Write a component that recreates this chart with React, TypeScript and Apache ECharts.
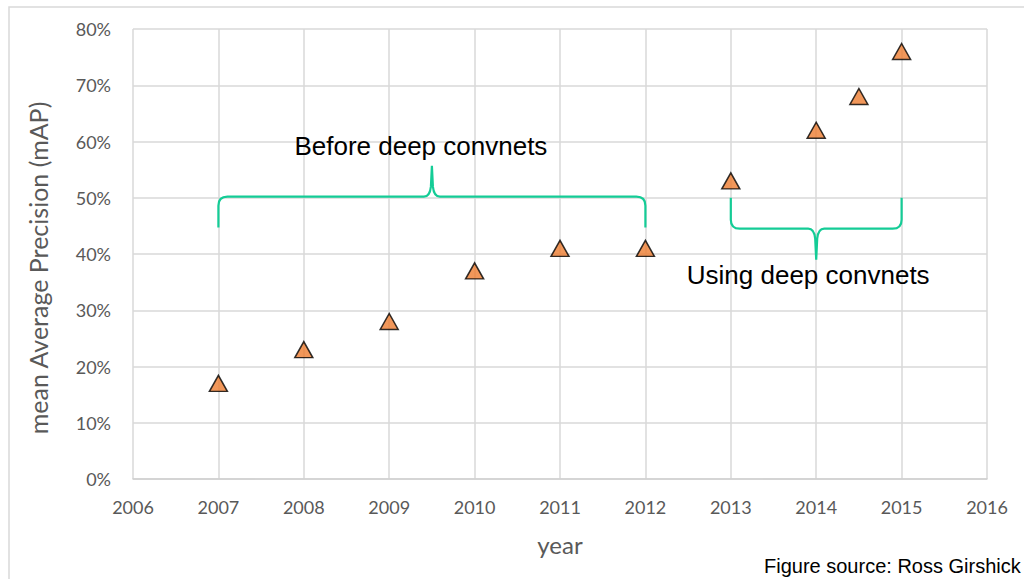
import React, { useEffect, useRef } from "react";
import * as echarts from "echarts";

const years = [2007, 2008, 2009, 2010, 2011, 2012, 2013, 2014, 2014.5, 2015];
const mapValues = [0.17, 0.23, 0.28, 0.37, 0.41, 0.41, 0.53, 0.62, 0.68, 0.76];

// braces: [xStart, xEnd, baseline y, end y, tip y]
const braceBefore = [2007, 2012, 0.502, 0.447, 0.557];
const braceUsing = [2013, 2015, 0.445, 0.5, 0.39];
const braceLabels = ["Before deep convnets", "Using deep convnets"];
const sourceText = "Figure source: Ross Girshick";
const yAxisTitle = "mean Average Precision (mAP)";
const xAxisTitle = "year";

const axisFont = "Lato, 'Open Sans', sans-serif";
const arial = "'Liberation Sans', Arial, sans-serif";
const gray = "#595959";

export default function App() {
  const ref = useRef<HTMLDivElement>(null);
  useEffect(() => {
    const chart = echarts.init(ref.current!, null, { renderer: "svg" });
    const braceData = [braceBefore, braceUsing];
    chart.setOption({
      animation: false,
      backgroundColor: "#fff",
      grid: { left: 133, right: 37, top: 29, bottom: 100 },
      xAxis: {
        type: "value",
        min: 2006,
        max: 2016,
        interval: 1,
        name: xAxisTitle,
        nameLocation: "middle",
        nameGap: 53,
        nameTextStyle: { color: gray, fontSize: 24, fontFamily: axisFont },
        axisLine: { show: true, lineStyle: { color: "#d0d0d0", width: 1.5 } },
        axisTick: { show: false },
        axisLabel: { color: gray, fontSize: 18, fontFamily: axisFont, margin: 19, formatter: (v: number) => String(v) },
        splitLine: { show: true, lineStyle: { color: "#d9d9d9", width: 1.5 } },
      },
      yAxis: {
        type: "value",
        min: 0,
        max: 0.8,
        interval: 0.1,
        axisLine: { show: false },
        axisTick: { show: false },
        axisLabel: {
          color: gray,
          fontSize: 18,
          fontFamily: axisFont,
          margin: 22,
          formatter: (v: number) => Math.round(v * 100) + "%",
        },
        splitLine: { show: true, lineStyle: { color: "#d9d9d9", width: 1.5 } },
      },
      graphic: [
        {
          type: "rect",
          shape: { x: 9, y: 7, width: 1100, height: 700 },
          style: { fill: "none", stroke: "#d9d9d9", lineWidth: 1.5 },
          silent: true,
          z: -1,
        },
        {
          type: "text",
          x: 38,
          y: 268,
          rotation: Math.PI / 2,
          style: {
            text: yAxisTitle,
            fill: gray,
            fontSize: 25,
            fontFamily: axisFont,
            align: "center",
            verticalAlign: "middle",
          },
        },
        {
          type: "text",
          x: 764,
          y: 556,
          style: { text: sourceText, fill: "#000", fontSize: 20, fontFamily: arial },
        },
      ],
      series: [
        {
          type: "custom",
          data: braceData.map((b, i) => [...b, i]),
          renderItem: (params: any, api: any) => {
            const x0 = api.value(0), x1 = api.value(1), yb = api.value(2), ye = api.value(3), yt = api.value(4);
            const idx = api.value(5);
            const pL = api.coord([x0, yb]);
            const pR = api.coord([x1, yb]);
            const pLe = api.coord([x0, ye]);
            const pRe = api.coord([x1, ye]);
            const pT = api.coord([(x0 + x1) / 2, yt]);
            const dir = pLe[1] > pL[1] ? 1 : -1;
            const r = 9;
            const by = pL[1];
            const tipDir = pT[1] < by ? -1 : 1;
            const d =
              `M ${pLe[0]} ${pLe[1]} ` +
              `L ${pLe[0]} ${by + dir * r} ` +
              `Q ${pLe[0]} ${by} ${pLe[0] + r} ${by} ` +
              `L ${pT[0] - 8} ${by} ` +
              `Q ${pT[0] - 2} ${by} ${pT[0] - 1} ${by + tipDir * 10} ` +
              `L ${pT[0]} ${pT[1]} ` +
              `L ${pT[0] + 1} ${by + tipDir * 10} ` +
              `Q ${pT[0] + 2} ${by} ${pT[0] + 8} ${by} ` +
              `L ${pR[0] - r} ${by} ` +
              `Q ${pR[0]} ${by} ${pR[0]} ${by + dir * r} ` +
              `L ${pRe[0]} ${pRe[1]}`;
            const labelPos =
              idx === 0
                ? [pT[0] - 11, pT[1] - 20]
                : [pT[0] - 8, pT[1] + 15];
            return {
              type: "group",
              children: [
                {
                  type: "path",
                  shape: { pathData: d },
                  style: { fill: "none", stroke: "#14cc96", lineWidth: 2.2 },
                },
                {
                  type: "text",
                  x: labelPos[0],
                  y: labelPos[1],
                  style: {
                    text: braceLabels[idx],
                    fill: "#000",
                    fontSize: 26,
                    fontFamily: arial,
                    align: "center",
                    verticalAlign: "middle",
                  },
                },
              ],
            };
          },
          z: 1,
        },
        {
          type: "scatter",
          data: years.map((y, i) => [y, mapValues[i]]),
          symbol: "triangle",
          symbolSize: [18, 16],
          itemStyle: { color: "#ed7d31", borderColor: "#000", borderWidth: 1.5 },
          z: 3,
        },
      ],
    });
    return () => chart.dispose();
  }, []);
  return (
    <div
      ref={ref}
      style={{ position: "fixed", left: 0, top: 0, width: 1024, height: 579 }}
    />
  );
}
